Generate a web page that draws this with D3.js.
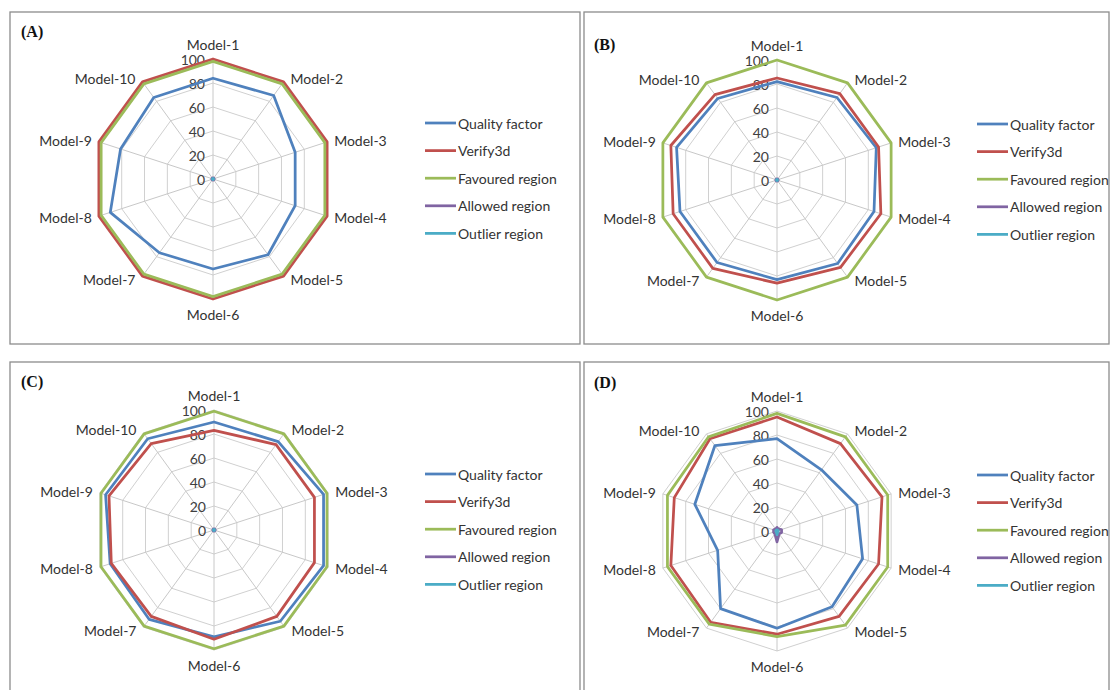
<!DOCTYPE html>
<html>
<head>
<meta charset="utf-8">
<script src="https://cdnjs.cloudflare.com/ajax/libs/d3/7.8.5/d3.min.js"></script>
<style>
  body { margin: 0; background: #fff; }
  svg text { font-family: Lato, "Open Sans", sans-serif; }
</style>
</head>
<body>
<svg id="chart" width="1110" height="690"></svg>
<script>
var models = ['Model-1', 'Model-2', 'Model-3', 'Model-4', 'Model-5', 'Model-6', 'Model-7', 'Model-8', 'Model-9', 'Model-10'];
var seriesNames = ['Quality factor', 'Verify3d', 'Favoured region', 'Allowed region', 'Outlier region'];
var seriesColors = ['#4F81BD', '#C0504D', '#9BBB59', '#8064A2', '#4BACC6'];
var tickValues = [0, 20, 40, 60, 80, 100];

// (A)
var qualityA  = [84, 86, 72, 72, 78, 75, 76, 90, 81, 84];
var verifyA   = [100, 100, 100, 100, 100, 100, 100, 100, 100, 100];
var favouredA = [98, 98, 98, 98, 98, 98, 98, 98, 98, 98];
var allowedA  = [1, 1, 1, 1, 1, 1, 1, 1, 1, 1];
var outlierA  = [0.5, 0.5, 0.5, 0.5, 0.5, 0.5, 0.5, 0.5, 0.5, 0.5];

// (B)
var qualityB  = [82, 85, 87, 85, 86, 83, 85, 85, 88, 84];
var verifyB   = [85, 89, 89, 91, 90, 86, 91, 91, 93, 88];
var favouredB = [100, 100, 100, 100, 100, 100, 100, 100, 100, 100];
var allowedB  = [1, 1, 1, 1, 1, 1, 1, 1, 1, 1];
var outlierB  = [0.5, 0.5, 0.5, 0.5, 0.5, 0.5, 0.5, 0.5, 0.5, 0.5];

// (C)
var qualityC  = [90, 91, 96, 96, 94, 89, 92, 91, 95, 94];
var verifyC   = [83, 88, 88, 88, 89, 91, 89, 90, 92, 89];
var favouredC = [99, 99, 99, 99, 99, 99, 99, 99, 99, 99];
var allowedC  = [1, 1, 1, 1, 1, 1, 1, 1, 1, 1];
var outlierC  = [0.5, 0.5, 0.5, 0.5, 0.5, 0.5, 0.5, 0.5, 0.5, 0.5];

// (D)
var qualityD  = [77, 63, 70, 75, 78, 81, 80, 52, 72, 88];
var verifyD   = [95, 90, 92, 89, 88, 86, 94, 93, 90, 95];
var favouredD = [98, 97, 97, 97, 97, 88, 96, 96, 96, 97];
var allowedD  = [3, 2, 4, 4, 3, 9, 3, 3, 3, 2];
var outlierD  = [1, 1, 1, 1, 1, 3, 1, 1, 1, 1];

var panels = [
  { title: '(A)', x: 10, y: 12, w: 570, h: 332, cx: 213, cy: 179, legendX: 425, titleX: 21, titleY: 37,
    data: [qualityA, verifyA, favouredA, allowedA, outlierA] },
  { title: '(B)', x: 584, y: 12, w: 525, h: 332, cx: 777, cy: 180, legendX: 977, titleX: 594, titleY: 50,
    data: [qualityB, verifyB, favouredB, allowedB, outlierB] },
  { title: '(C)', x: 10, y: 362, w: 570, h: 340, cx: 214, cy: 530, legendX: 425, titleX: 21, titleY: 387,
    data: [qualityC, verifyC, favouredC, allowedC, outlierC] },
  { title: '(D)', x: 584, y: 362, w: 525, h: 340, cx: 777, cy: 531, legendX: 977, titleX: 594, titleY: 388,
    data: [qualityD, verifyD, favouredD, allowedD, outlierD] }
];

var svg = d3.select('#chart');
var angle = d3.scaleLinear().domain([0, models.length]).range([0, 2 * Math.PI]);
var radius = d3.scaleLinear().domain([0, 100]).range([0, 120]);
var R = radius(100);

var radar = d3.lineRadial()
  .angle(function(d, i) { return angle(i); })
  .radius(function(d) { return radius(d); })
  .curve(d3.curveLinearClosed);

var drawPanel = function(p) {
  svg.append('rect')
    .attr('x', p.x).attr('y', p.y).attr('width', p.w).attr('height', p.h)
    .attr('fill', '#fff').attr('stroke', '#8c8c8c').attr('stroke-width', 1.3);

  svg.append('text')
    .attr('x', p.titleX).attr('y', p.titleY)
    .style('font-family', '"Liberation Serif", "DejaVu Serif", serif')
    .style('font-weight', 'bold').style('font-size', '16px')
    .attr('fill', '#111')
    .text(p.title);

  var g = svg.append('g').attr('transform', 'translate(' + p.cx + ',' + p.cy + ')');

  // grid rings
  g.selectAll('.ring').data(tickValues.slice(1)).enter().append('path')
    .attr('d', function(t) { return radar(models.map(function() { return t; })); })
    .attr('fill', 'none').attr('stroke', '#d0d0d0').attr('stroke-width', 1);

  // spokes
  g.selectAll('.spoke').data(models).enter().append('line')
    .attr('x1', 0).attr('y1', 0)
    .attr('x2', function(d, i) { return R * Math.sin(angle(i)); })
    .attr('y2', function(d, i) { return -R * Math.cos(angle(i)); })
    .attr('stroke', '#c8c8c8').attr('stroke-width', 1);

  // tick labels
  g.selectAll('.tick').data(tickValues).enter().append('text')
    .attr('x', -8).attr('y', function(t) { return -radius(t); })
    .attr('text-anchor', 'end').attr('dominant-baseline', 'central')
    .style('font-size', '14px').attr('fill', '#404040')
    .text(function(t) { return t; });

  // category labels
  g.selectAll('.cat').data(models).enter().append('text')
    .each(function(d, i) {
      var a = angle(i), s = Math.sin(a), c = Math.cos(a);
      var el = d3.select(this);
      if (Math.abs(s) < 0.1) {
        el.attr('x', 0).attr('y', -c * (R + 15)).attr('text-anchor', 'middle');
      } else {
        el.attr('x', R * s + (s > 0 ? 7 : -7))
          .attr('y', -R * c - c * 4)
          .attr('text-anchor', s > 0 ? 'start' : 'end');
      }
    })
    .attr('dominant-baseline', 'central')
    .style('font-size', '14px').attr('fill', '#333')
    .text(function(d) { return d; });

  // series
  g.selectAll('.series').data(p.data).enter().append('path')
    .attr('d', function(d) { return radar(d); })
    .attr('fill', 'none')
    .attr('stroke', function(d, i) { return seriesColors[i]; })
    .attr('stroke-width', 2.75)
    .attr('stroke-linejoin', 'round');

  // legend
  var lg = svg.append('g').attr('transform', 'translate(' + p.legendX + ',' + (p.cy - 56) + ')');
  var item = lg.selectAll('.item').data(seriesNames).enter().append('g')
    .attr('transform', function(d, i) { return 'translate(0,' + (i * 27.6) + ')'; });
  item.append('line')
    .attr('x1', 0).attr('x2', 31).attr('y1', 0).attr('y2', 0)
    .attr('stroke', function(d, i) { return seriesColors[i]; })
    .attr('stroke-width', 2.75);
  item.append('text')
    .attr('x', 33).attr('y', 0).attr('dominant-baseline', 'central')
    .style('font-size', '14px').attr('fill', '#333')
    .text(function(d) { return d; });
};

panels.forEach(drawPanel);
</script>
</body>
</html>
